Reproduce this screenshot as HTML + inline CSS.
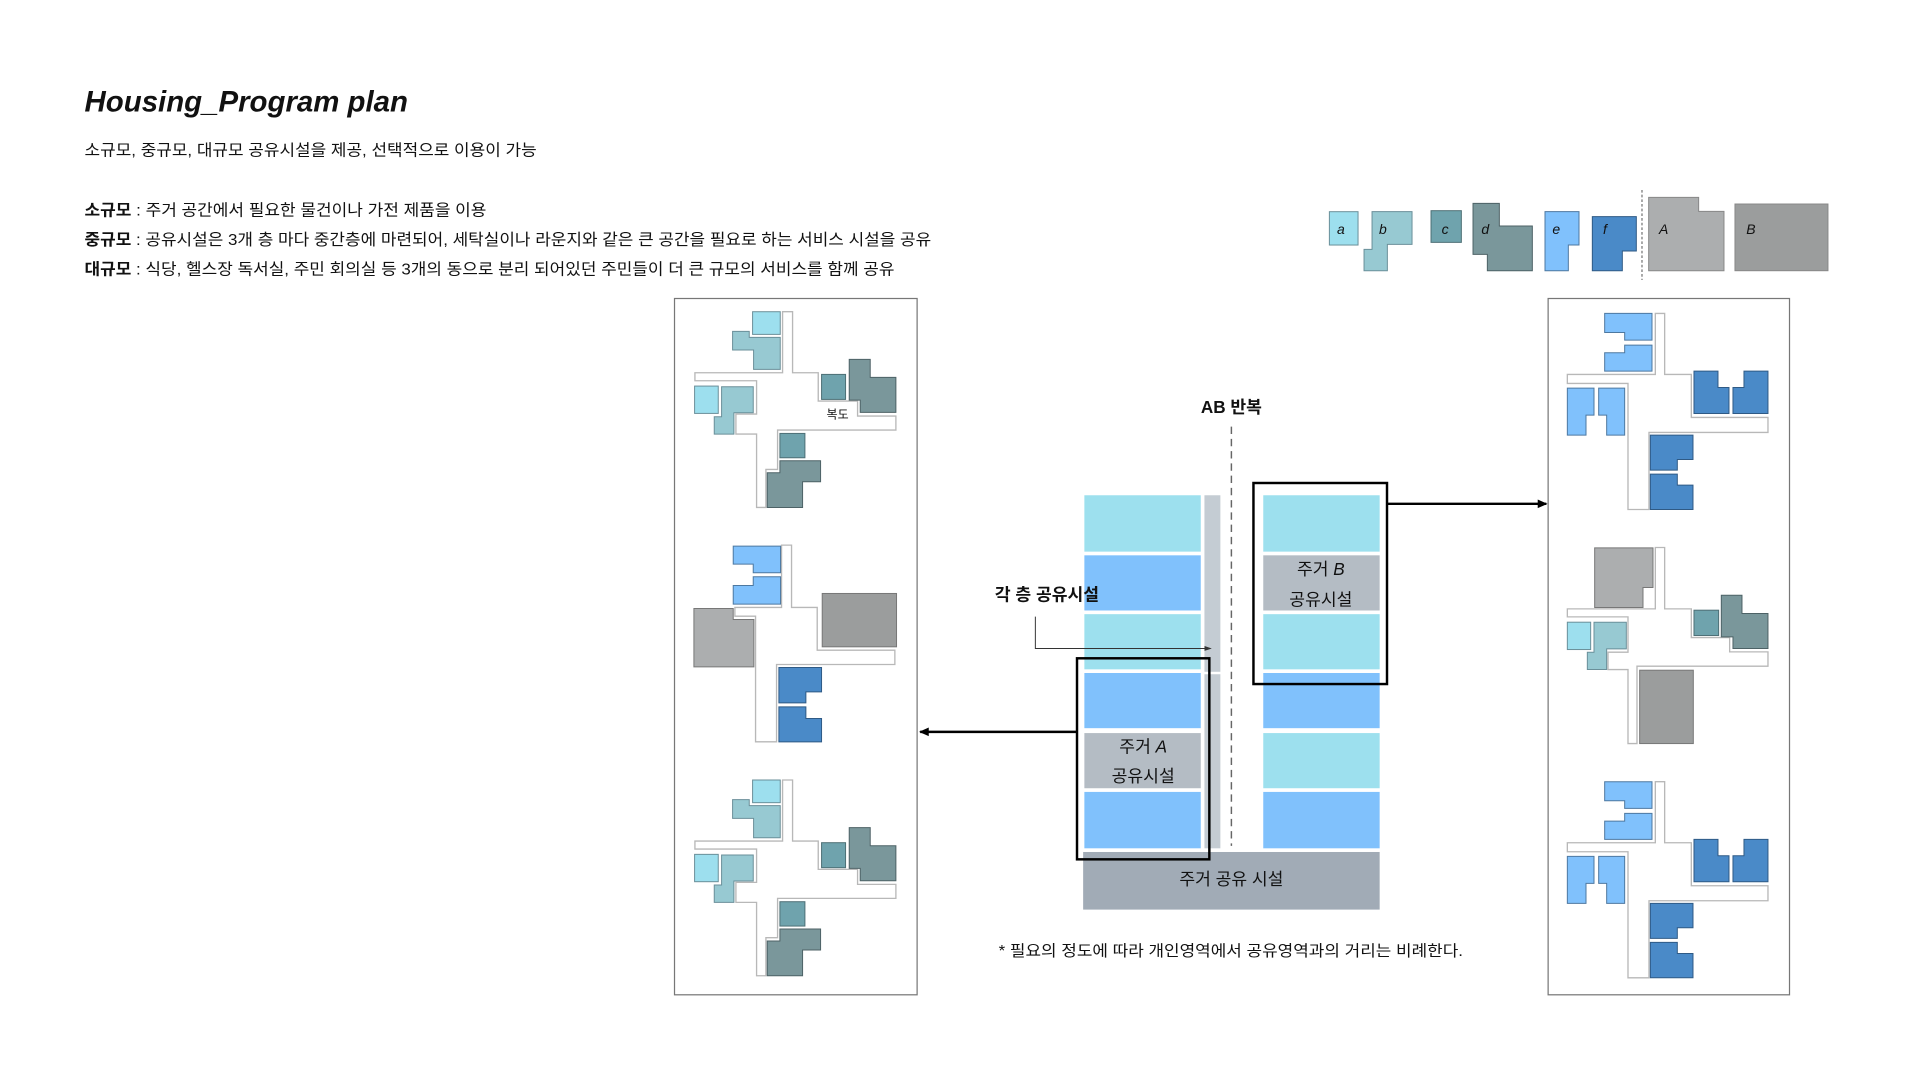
<!DOCTYPE html>
<html><head><meta charset="utf-8"><style>
html,body{margin:0;padding:0;background:#fff;}
svg{display:block;}
text{font-family:"Liberation Sans","Noto Sans CJK KR",sans-serif;fill:#111;}
</style></head><body>
<svg width="1920" height="1080" viewBox="0 0 1567 881" preserveAspectRatio="none" xmlns="http://www.w3.org/2000/svg">
<defs>
<marker id="ah" markerWidth="8" markerHeight="8" refX="7" refY="4" orient="auto" markerUnits="userSpaceOnUse"><path d="M0,0.5 L8,4 L0,7.5 Z" fill="#000"/></marker>
<marker id="ah2" markerWidth="6" markerHeight="6" refX="5" refY="3" orient="auto" markerUnits="userSpaceOnUse"><path d="M0,1 L6,3 L0,5 Z" fill="#333"/></marker>
<g id="planA">
  <path d="M368,65 L398,65 L398,248 L475,248 L475,333 L593,333 L593,378 L708,378 L708,420 L353,420 L353,538 L318,538 L318,652 L290,652 L290,432 L228,432 L228,372 L290,372 L290,272 L105,272 L105,248 L368,248 Z" fill="#fff" stroke="#b8b8b8" stroke-width="4"/>
  <rect x="278" y="65" width="83" height="68" fill="#9ddfee" stroke="#6a8f99" stroke-width="3"/>
  <path d="M218,124 L268,124 L268,142 L361,142 L361,238 L281,238 L281,180 L218,180 Z" fill="#97c9d2" stroke="#6a8f99" stroke-width="3"/>
  <rect x="104" y="288" width="71" height="82" fill="#9ddfee" stroke="#6a8f99" stroke-width="3"/>
  <path d="M185,290 L280,290 L280,368 L222,368 L222,432 L163,432 L163,380 L185,380 Z" fill="#97c9d2" stroke="#6a8f99" stroke-width="3"/>
  <rect x="485" y="253" width="72" height="75" fill="#6fa3ad" stroke="#4d6f75" stroke-width="3"/>
  <path d="M568,208 L631,208 L631,262 L708,262 L708,367 L601,367 L601,330 L568,330 Z" fill="#7a979b" stroke="#4d6266" stroke-width="3"/>
  <rect x="360" y="430" width="75" height="73" fill="#6fa3ad" stroke="#4d6f75" stroke-width="3"/>
  <path d="M360,512 L482,512 L482,575 L428,575 L428,652 L322,652 L322,548 L360,548 Z" fill="#7a979b" stroke="#4d6266" stroke-width="3"/>
</g>
<g id="planE">
  <path d="M272,40 L300,40 L300,223 L380,223 L380,352 L610,352 L610,397 L253,397 L253,628 L190,628 L190,250 L8,250 L8,223 L272,223 Z" fill="#fff" stroke="#b8b8b8" stroke-width="4"/>
  <path d="M120,40 L262,40 L262,120 L180,120 L180,97 L120,97 Z" fill="#80c1fc" stroke="#4d78a0" stroke-width="3"/>
  <path d="M180,135 L262,135 L262,213 L120,213 L120,158 L180,158 Z" fill="#80c1fc" stroke="#4d78a0" stroke-width="3"/>
  <path d="M8,264 L88,264 L88,345 L64,345 L64,405 L8,405 Z" fill="#80c1fc" stroke="#4d78a0" stroke-width="3"/>
  <path d="M102,264 L180,264 L180,405 L126,405 L126,345 L102,345 Z" fill="#80c1fc" stroke="#4d78a0" stroke-width="3"/>
  <path d="M388,213 L460,213 L460,262 L493,262 L493,340 L388,340 Z" fill="#4a8ac8" stroke="#2f5a85" stroke-width="3"/>
  <path d="M505,262 L538,262 L538,213 L610,213 L610,340 L505,340 Z" fill="#4a8ac8" stroke="#2f5a85" stroke-width="3"/>
  <path d="M257,405 L385,405 L385,478 L338,478 L338,510 L257,510 Z" fill="#4a8ac8" stroke="#2f5a85" stroke-width="3"/>
  <path d="M257,522 L338,522 L338,555 L385,555 L385,628 L257,628 Z" fill="#4a8ac8" stroke="#2f5a85" stroke-width="3"/>
</g>
</defs>

<text x="69" y="91" font-size="24" font-weight="bold" font-style="italic">Housing_Program plan</text>
<text x="69" y="127" font-size="13" textLength="369" lengthAdjust="spacingAndGlyphs">소규모, 중규모, 대규모 공유시설을 제공, 선택적으로 이용이 가능</text>
<text x="69" y="176" font-size="13" textLength="328" lengthAdjust="spacingAndGlyphs"><tspan font-weight="bold">소규모</tspan> : 주거 공간에서 필요한 물건이나 가전 제품을 이용</text>
<text x="69" y="200" font-size="13" textLength="691" lengthAdjust="spacingAndGlyphs"><tspan font-weight="bold">중규모</tspan> : 공유시설은 3개 층 마다 중간층에 마련되어, 세탁실이나 라운지와 같은 큰 공간을 필요로 하는 서비스 시설을 공유</text>
<text x="69" y="224" font-size="13" textLength="661" lengthAdjust="spacingAndGlyphs"><tspan font-weight="bold">대규모</tspan> : 식당, 헬스장 독서실, 주민 회의실 등 3개의 동으로 분리 되어있던 주민들이 더 큰 규모의 서비스를 함께 공유</text>

<g transform="translate(1093.4,155) scale(0.272)">
  <rect x="-31" y="65" width="86" height="100" fill="#9ddfee" stroke="#6a8f99" stroke-width="3"/>
  <path d="M97,65 L217,65 L217,163 L143,163 L143,242 L73,242 L73,178 L97,178 Z" fill="#97c9d2" stroke="#6a8f99" stroke-width="3"/>
  <rect x="274" y="62" width="91" height="95" fill="#6fa3ad" stroke="#4d6f75" stroke-width="3"/>
  <path d="M400,40 L479,40 L479,108 L578,108 L578,242 L443,242 L443,193 L400,193 Z" fill="#7a979b" stroke="#4d6266" stroke-width="3"/>
  <path d="M616,65 L718,65 L718,165 L686,165 L686,242 L616,242 Z" fill="#80c1fc" stroke="#4d78a0" stroke-width="3"/>
  <path d="M758,80 L890,80 L890,183 L848,183 L848,242 L758,242 Z" fill="#4a8ac8" stroke="#2f5a85" stroke-width="3"/>
  <line x1="907" y1="0" x2="907" y2="270" stroke="#555" stroke-width="3" stroke-dasharray="8,6"/>
  <path d="M927,22 L1077,22 L1077,64 L1153,64 L1153,242 L927,242 Z" fill="#acaeaf" stroke="#888" stroke-width="3"/>
  <rect x="1186" y="42" width="279" height="200" fill="#9b9d9d" stroke="#888" stroke-width="3"/>
  <g font-size="42" font-style="italic">
    <text x="-8" y="132">a</text><text x="118" y="132">b</text><text x="306" y="132">c</text><text x="425" y="132">d</text>
    <text x="638" y="132">e</text><text x="790" y="132">f</text><text x="958" y="132">A</text><text x="1220" y="132">B</text>
  </g>
</g>

<rect x="550.5" y="243.5" width="198" height="568" fill="#fff" stroke="#777" stroke-width="1"/>
<rect x="1263.5" y="243.5" width="197" height="568" fill="#fff" stroke="#777" stroke-width="1"/>

<g transform="translate(538.6,236.6) scale(0.272)"><use href="#planA"/><text x="500" y="385" font-size="36">복도</text></g>
<g transform="translate(538.6,618.6) scale(0.272)"><use href="#planA"/></g>
<g transform="translate(554.9,440.6) scale(0.272)">
  <path d="M305,15 L335,15 L335,202 L412,202 L412,330 L645,330 L645,373 L290,373 L290,605 L227,605 L227,228 L165,228 L165,202 L305,202 Z" fill="#fff" stroke="#b8b8b8" stroke-width="4"/>
  <path d="M160,18 L302,18 L302,98 L220,98 L220,72 L160,72 Z" fill="#80c1fc" stroke="#4d78a0" stroke-width="3"/>
  <path d="M220,110 L302,110 L302,192 L160,192 L160,136 L220,136 Z" fill="#80c1fc" stroke="#4d78a0" stroke-width="3"/>
  <path d="M42,205 L160,205 L160,238 L222,238 L222,380 L42,380 Z" fill="#acaeaf" stroke="#777" stroke-width="3"/>
  <rect x="427" y="160" width="223" height="160" fill="#9b9d9d" stroke="#777" stroke-width="3"/>
  <path d="M297,382 L425,382 L425,455 L378,455 L378,488 L297,488 Z" fill="#4a8ac8" stroke="#2f5a85" stroke-width="3"/>
  <path d="M297,500 L378,500 L378,535 L425,535 L425,605 L297,605 Z" fill="#4a8ac8" stroke="#2f5a85" stroke-width="3"/>
</g>

<g transform="translate(1277,244.8) scale(0.272)"><use href="#planE"/></g>
<g transform="translate(1277,626.8) scale(0.272)"><use href="#planE"/></g>
<g transform="translate(1277,244.8) scale(0.272)">
  <path d="M272,742 L300,742 L300,926 L380,926 L380,1012 L495,1012 L495,1055 L610,1055 L610,1098 L217,1098 L217,1330 L190,1330 L190,1108 L130,1108 L130,1056 L190,1056 L190,950 L8,950 L8,926 L272,926 Z" fill="#fff" stroke="#b8b8b8" stroke-width="4"/>
  <path d="M90,743 L265,743 L265,862 L235,862 L235,922 L90,922 Z" fill="#acaeaf" stroke="#777" stroke-width="3"/>
  <rect x="8" y="966" width="70" height="82" fill="#9ddfee" stroke="#6a8f99" stroke-width="3"/>
  <path d="M88,966 L185,966 L185,1046 L126,1046 L126,1108 L68,1108 L68,1056 L88,1056 Z" fill="#97c9d2" stroke="#6a8f99" stroke-width="3"/>
  <rect x="388" y="930" width="74" height="76" fill="#6fa3ad" stroke="#4d6f75" stroke-width="3"/>
  <path d="M470,885 L532,885 L532,940 L610,940 L610,1045 L505,1045 L505,1010 L470,1010 Z" fill="#7a979b" stroke="#4d6266" stroke-width="3"/>
  <rect x="225" y="1110" width="161" height="220" fill="#9b9d9d" stroke="#777" stroke-width="3"/>
</g>

<rect x="885" y="404" width="95" height="46" fill="#9de0ee"/>
<rect x="885" y="453" width="95" height="45" fill="#80c1fc"/>
<rect x="885" y="501" width="95" height="45" fill="#9de0ee"/>
<rect x="885" y="549" width="95" height="45" fill="#80c1fc"/>
<rect x="885" y="598" width="95" height="45" fill="#b4bcc4"/>
<rect x="885" y="646" width="95" height="46" fill="#80c1fc"/>
<rect x="983" y="404" width="13" height="144" fill="#c4ccd3"/>
<rect x="983" y="550" width="13" height="142" fill="#c4ccd3"/>
<rect x="1031" y="404" width="95" height="46" fill="#9de0ee"/>
<rect x="1031" y="453" width="95" height="45" fill="#b4bcc4"/>
<rect x="1031" y="501" width="95" height="45" fill="#9de0ee"/>
<rect x="1031" y="549" width="95" height="45" fill="#80c1fc"/>
<rect x="1031" y="598" width="95" height="45" fill="#9de0ee"/>
<rect x="1031" y="646" width="95" height="46" fill="#80c1fc"/>
<rect x="884" y="695" width="242" height="47" fill="#a1abb6"/>
<line x1="1005" y1="348" x2="1005" y2="690" stroke="#666" stroke-width="1.2" stroke-dasharray="6,4"/>
<rect x="879" y="537" width="108" height="164" fill="none" stroke="#000" stroke-width="2"/>
<rect x="1023" y="394" width="109" height="164" fill="none" stroke="#000" stroke-width="2"/>
<line x1="879" y1="597" x2="751" y2="597" stroke="#000" stroke-width="2" marker-end="url(#ah)"/>
<line x1="1132" y1="411" x2="1262" y2="411" stroke="#000" stroke-width="2" marker-end="url(#ah)"/>
<polyline points="845,503 845,529 988,529" fill="none" stroke="#333" stroke-width="0.8" marker-end="url(#ah2)"/>

<text x="1005" y="337" font-size="14" font-weight="bold" text-anchor="middle">AB 반복</text>
<text x="812" y="490" font-size="14" font-weight="bold">각 층 공유시설</text>
<text x="1078" y="469" font-size="14" text-anchor="middle">주거 <tspan font-style="italic">B</tspan></text>
<text x="1078" y="494" font-size="14" text-anchor="middle">공유시설</text>
<text x="933" y="614" font-size="14" text-anchor="middle">주거 <tspan font-style="italic">A</tspan></text>
<text x="933" y="638" font-size="14" text-anchor="middle">공유시설</text>
<text x="1005" y="722" font-size="14" text-anchor="middle">주거 공유 시설</text>
<text x="815" y="780" font-size="12.5" textLength="379" lengthAdjust="spacingAndGlyphs">* 필요의 정도에 따라 개인영역에서 공유영역과의 거리는 비례한다.</text>
</svg>
</body></html>
